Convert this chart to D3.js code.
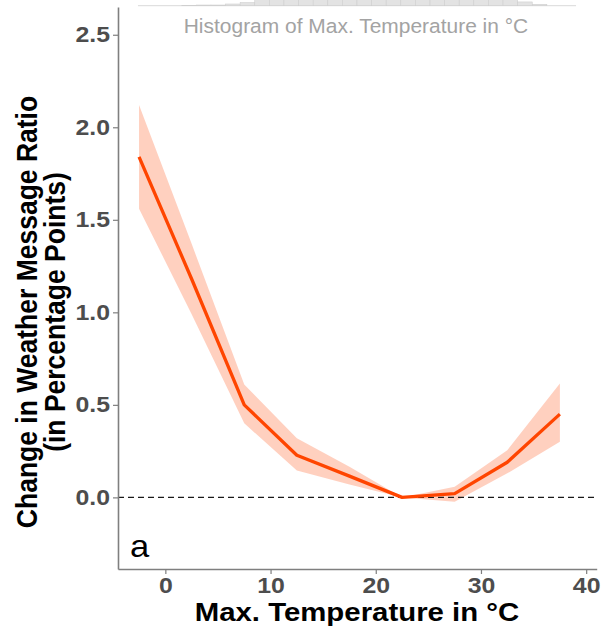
<!DOCTYPE html>
<html>
<head>
<meta charset="utf-8">
<script src="https://cdn.jsdelivr.net/npm/d3@7"></script>
<style>
  html, body { margin: 0; padding: 0; background: #fff; }
  svg { display: block; font-family: "Liberation Sans", Arial, sans-serif; }
</style>
</head>
<body>
<svg id="chart" width="601" height="631"></svg>
<script>
// Temperature bins (bin centres, °C) and the estimated effect with its confidence band
const temps    = [-2.5, 2.5, 7.5, 12.5, 17.5, 22.5, 27.5, 32.5, 37.5];
const estimate = [1.84, 1.18, 0.50, 0.228, 0.115, 0.0, 0.02, 0.19, 0.45];
const lower    = [1.56, 0.99, 0.40, 0.145, 0.07, 0.0, -0.024, 0.13, 0.30];
const upper    = [2.12, 1.37, 0.61, 0.32, 0.165, 0.0, 0.057, 0.255, 0.615];

// Marginal histogram of max. temperature (30 bins)
const histStart = -2.604;
const histWidth = 1.388;
const histCounts = [0, 0, 0, 2, 4, 4, 10, 18, 40, 60, 80, 95, 110, 120, 125, 130,
                    128, 125, 120, 118, 112, 105, 95, 80, 60, 40, 22, 8, 0, 0];

const xTicks = [0, 10, 20, 30, 40];
const yTicks = [0, 0.5, 1.0, 1.5, 2.0, 2.5];

// glyphs are drawn slightly wide
const stretch = 1.13;

const svg = d3.select("#chart");

const x = d3.scaleLinear().domain([-4.5, 41]).range([118, 596.7]);
const y = d3.scaleLinear().domain([-0.387, 2.65]).range([569, 7]);

// ---- histogram strip along the top edge ----
const histBase = 5.7;
const hScale = d3.scaleLinear().domain([0, 1]).range([0, 0.17]);
const hist = svg.append("g");
hist.append("line")
  .attr("x1", x(histStart)).attr("x2", x(histStart + histWidth * histCounts.length))
  .attr("y1", histBase).attr("y2", histBase)
  .attr("stroke", "#d9d9d9").attr("stroke-width", 1);
hist.selectAll("rect")
  .data(histCounts.map((c, i) => ({ c, i })).filter(d => d.c > 0))
  .join("rect")
  .attr("x", d => x(histStart + d.i * histWidth))
  .attr("width", d => x(histStart + (d.i + 1) * histWidth) - x(histStart + d.i * histWidth))
  .attr("y", d => histBase - hScale(d.c))
  .attr("height", d => hScale(d.c))
  .attr("fill", "#e3e3e3")
  .attr("stroke", "#cfcfcf")
  .attr("stroke-width", 0.6);

svg.append("text")
  .attr("transform", `translate(356,32.5) scale(1.075,1)`)
  .attr("text-anchor", "middle")
  .attr("font-size", 19.5)
  .attr("fill", "#a3a3a3")
  .text("Histogram of Max. Temperature in °C");

// ---- confidence band and estimate line ----
const pts = temps.map((t, i) => ({ t, est: estimate[i], lo: lower[i], hi: upper[i] }));

svg.append("path")
  .datum(pts)
  .attr("d", d3.area().x(d => x(d.t)).y0(d => y(d.lo)).y1(d => y(d.hi)))
  .attr("fill", "#ff4500")
  .attr("fill-opacity", 0.25);

// zero reference line
svg.append("line")
  .attr("x1", x(-4.5)).attr("x2", x(41))
  .attr("y1", y(0)).attr("y2", y(0))
  .attr("stroke", "#1a1a1a").attr("stroke-width", 1.3)
  .attr("stroke-dasharray", "6,4");

svg.append("path")
  .datum(pts)
  .attr("d", d3.line().x(d => x(d.t)).y(d => y(d.est)))
  .attr("fill", "none")
  .attr("stroke", "#ff4500")
  .attr("stroke-width", 3.3)
  .attr("stroke-linejoin", "round");

// ---- axes ----
const axisColor = "#7f7f7f";
const xAxis = svg.append("g")
  .attr("transform", `translate(0,${y(-0.387)})`)
  .call(d3.axisBottom(x).tickValues(xTicks).tickSize(5).tickPadding(3).tickSizeOuter(0));
const yAxis = svg.append("g")
  .attr("transform", `translate(${x(-4.5)},0)`)
  .call(d3.axisLeft(y).tickValues(yTicks).tickFormat(d3.format(".1f")).tickSize(5).tickPadding(3).tickSizeOuter(0));

[xAxis, yAxis].forEach(g => {
  g.select(".domain").attr("stroke", axisColor).attr("stroke-width", 1.6);
  g.selectAll(".tick line").attr("stroke", axisColor).attr("stroke-width", 1.2);
  g.selectAll(".tick text")
    .attr("fill", "#4d4d4d")
    .attr("font-size", 22)
    .attr("font-weight", "bold")
    .attr("font-family", "\"Liberation Sans\", Arial, sans-serif");
});
xAxis.selectAll(".tick text").attr("transform", `scale(${stretch},1)`);
yAxis.selectAll(".tick text").attr("transform", `scale(${stretch},1)`).attr("x", -8 / stretch);

// axis titles
svg.append("text")
  .attr("transform", `translate(357,621) scale(${stretch},1)`)
  .attr("text-anchor", "middle")
  .attr("font-size", 26)
  .attr("font-weight", "bold")
  .attr("fill", "#000")
  .text("Max. Temperature in °C");

const yTitle = svg.append("text")
  .attr("transform", `translate(0,312) rotate(-90) scale(1,${stretch})`)
  .attr("text-anchor", "middle")
  .attr("font-size", 26.5)
  .attr("font-weight", "bold")
  .attr("fill", "#000");
yTitle.append("tspan").attr("x", 0).attr("y", 37 / stretch).text("Change in Weather Message Ratio");
yTitle.append("tspan").attr("x", 0).attr("y", 65.5 / stretch).text("(in Percentage Points)");

// panel tag
svg.append("text")
  .attr("transform", `translate(130,557) scale(1.08,1)`)
  .attr("font-size", 32)
  .attr("fill", "#000")
  .text("a");
</script>
</body>
</html>
